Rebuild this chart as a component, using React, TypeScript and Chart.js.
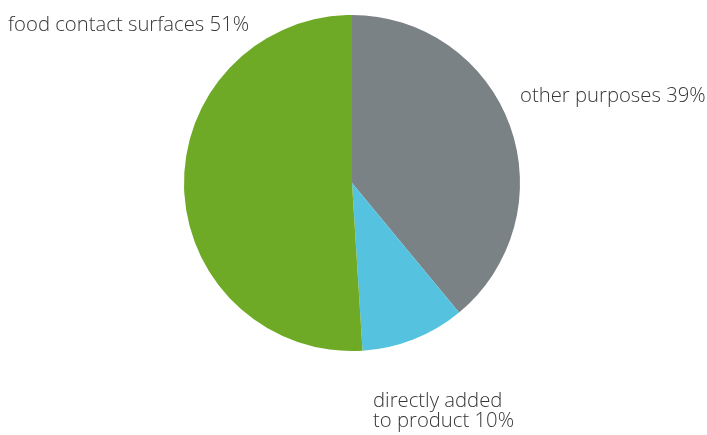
import React, { useEffect, useRef } from "react";
import { Chart, registerables } from "chart.js";

Chart.register(...registerables);

const categories = ["other purposes", "directly added to product", "food contact surfaces"];
const values = [39, 10, 51];
const colors = ["#7b8286", "#55c3df", "#6eaa26"];
const labelLines = [["other purposes 39%"], ["directly added", "to product 10%"], ["food contact surfaces 51%"]];

const labelPlugin = {
  id: "sliceLabels",
  afterDraw(chart: any) {
    const ctx = chart.ctx;
    ctx.save();
    ctx.font = "300 20.3px 'Open Sans', 'Noto Sans', sans-serif";
    ctx.fillStyle = "#363636";
    ctx.textBaseline = "alphabetic";
    ctx.textAlign = "left";
    const pos = [
      { x: 520, y: 102 },
      { x: 373, y: 407 },
      { x: 8, y: 31 },
    ];
    labelLines.forEach((lines, i) => {
      lines.forEach((t, j) => {
        ctx.fillText(t, pos[i].x, pos[i].y + j * 20);
      });
    });
    ctx.restore();
  },
};

export default function App() {
  const ref = useRef<HTMLCanvasElement>(null);
  useEffect(() => {
    const chart = new Chart(ref.current!, {
      type: "pie",
      data: {
        labels: categories,
        datasets: [
          {
            data: values,
            backgroundColor: colors,
            borderWidth: 0,
          },
        ],
      },
      options: {
        responsive: false,
        animation: false,
        layout: { padding: { left: 184, right: 187, top: 15, bottom: 84 } },
        plugins: { legend: { display: false }, tooltip: { enabled: false } },
      },
      plugins: [labelPlugin],
    });
    return () => chart.destroy();
  }, []);
  return (
    <div style={{ position: "fixed", left: 0, top: 0, width: 707, height: 435, background: "#fff" }}>
      <canvas ref={ref} width={707} height={435} />
    </div>
  );
}
